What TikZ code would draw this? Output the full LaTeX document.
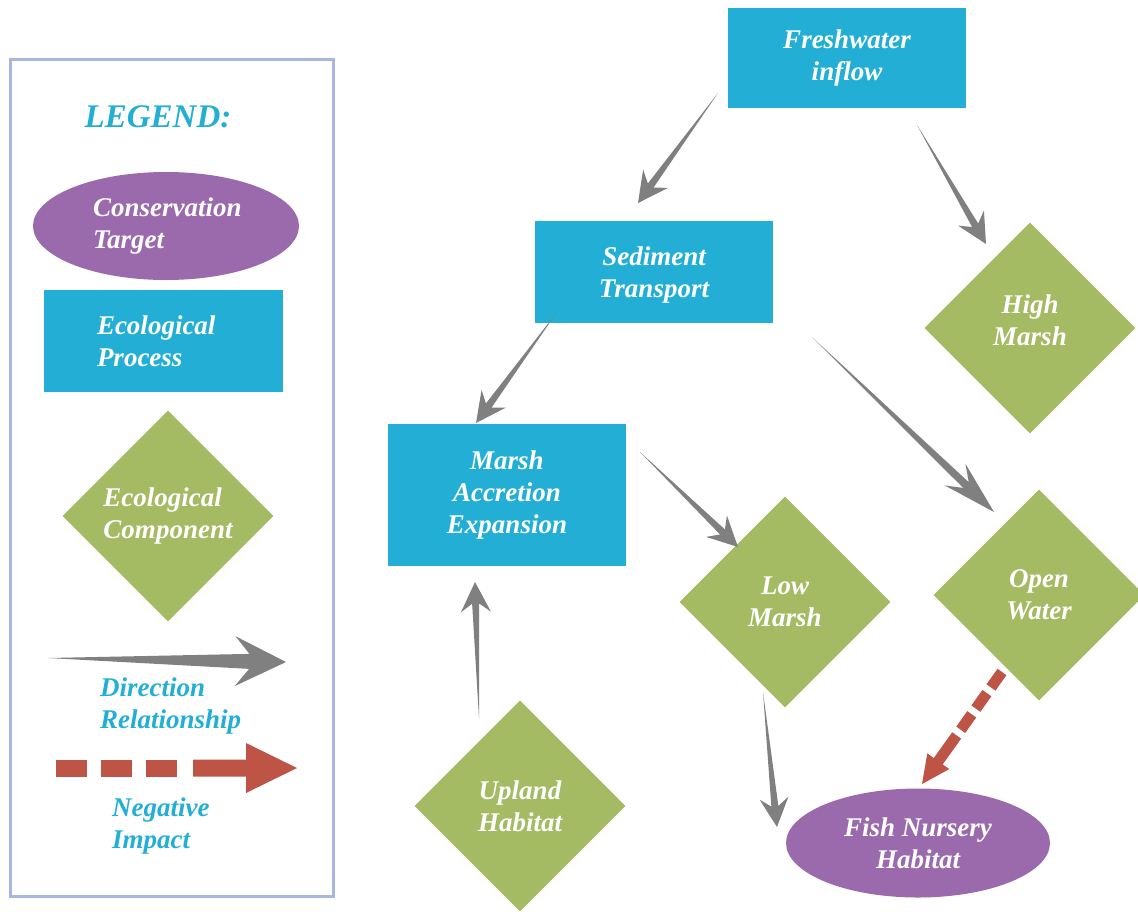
\documentclass[tikz,border=0pt]{standalone}
\usepackage{fontspec}
\setmainfont{Liberation Serif}
\usetikzlibrary{shapes.geometric,calc}
\definecolor{procblue}{HTML}{23AFD5}
\definecolor{targpurple}{HTML}{9A6AAD}
\definecolor{compgreen}{HTML}{A4BA63}
\definecolor{arrgray}{HTML}{808080}
\definecolor{negred}{HTML}{BE5445}
\definecolor{legframe}{HTML}{A9B6E0}
% tapered gray arrow: start, tip, head length, head half width, shaft half width
\newcommand\grayarrow[5]{%
  \coordinate (ga-n) at ($(#2)!0.72*#3!(#1)$);
  \coordinate (ga-c) at ($(#2)!#3!(#1)$);
  \fill[arrgray] (#1) -- ($(ga-n)!#5!90:(#2)$) -- ($(ga-c)!#4!90:(#2)$) -- (#2)
    -- ($(ga-c)!#4!-90:(#2)$) -- ($(ga-n)!#5!-90:(#2)$) -- cycle;
}
% solid red arrow with triangular head
\newcommand\redarrow[5]{%
  \coordinate (ra-c) at ($(#2)!#3!(#1)$);
  \fill[negred] ($(#1)!#5!90:(#2)$) -- ($(ra-c)!#5!90:(#2)$) -- ($(ra-c)!#4!90:(#2)$) -- (#2)
    -- ($(ra-c)!#4!-90:(#2)$) -- ($(ra-c)!#5!-90:(#2)$) -- ($(#1)!#5!-90:(#2)$) -- cycle;
}
\tikzset{
  proc/.style={rectangle, fill=procblue, text=white, inner sep=0pt, minimum width=238pt, align=center},
  target/.style={ellipse, fill=targpurple, text=white, inner sep=0pt, minimum width=264pt, minimum height=109pt, align=center},
  comp/.style={diamond, fill=compgreen, text=white, inner sep=0pt, minimum width=211pt, minimum height=211pt, align=center},
  legtext/.style={text=procblue, align=left, anchor=west, inner sep=0pt},
}
\begin{document}
\begin{tikzpicture}[x=1pt, y=-1pt, font=\bfseries\itshape\fontsize{27}{32}\selectfont]
\useasboundingbox (0,0) rectangle (1138,911);
\clip (0,0) rectangle (1138,911);

% ---------- legend ----------
\node[draw=legframe, line width=2.5pt, minimum width=323pt, minimum height=837pt, anchor=north west, inner sep=0pt] (legbox) at (9,58) {};
\node[text=procblue, font=\bfseries\itshape\fontsize{33}{36}\selectfont] (legtitle) at (158,117) {LEGEND:};
\node[target, minimum width=266pt, minimum height=108pt, align=left, text width=146pt] (legtarget) at (166,226) {Conservation\\Target};
\node[proc, minimum width=239pt, minimum height=102pt, align=left, text width=132pt] (legproc) at (163,341) {Ecological\\Process};
\node[comp, align=left] (legcomp) at (168,516) {Ecological\\Component};

\coordinate (lga-s) at (48,658);
\coordinate (lga-t) at (286,662);
\grayarrow{lga-s}{lga-t}{51pt}{25pt}{7.5pt}
\node[legtext] (legdir) at (100,706) {Direction\\Relationship};

\coordinate (lra-a) at (56,768);
\coordinate (lra-b) at (178,768);
\coordinate (lra-c) at (193,768);
\coordinate (lra-t) at (297,768);
\draw[negred, line width=17pt, dash pattern=on 31pt off 14pt] (lra-a) -- (lra-b);
\redarrow{lra-c}{lra-t}{51pt}{25pt}{8.5pt}
\node[legtext] (legneg) at (112,826) {Negative\\Impact};

% ---------- main diagram ----------
\node[proc, minimum height=100pt] (fresh) at (847,58) {Freshwater\\inflow};
\node[proc, minimum height=102pt, text depth=-6pt] (sed) at (654,272) {Sediment\\Transport};
\node[proc, minimum height=142pt] (marsh) at (507,495) {Marsh\\Accretion\\Expansion};
\node[comp, text depth=16pt] (high) at (1030,328) {High\\Marsh};
\node[comp] (low) at (785,602) {Low\\Marsh};
\node[comp] (open) at (1039,595) {Open\\Water};
\node[comp] (upland) at (520,806) {Upland\\Habitat};
\node[target] (fish) at (918,843) {Fish Nursery\\Habitat};

% connectors (free ends as named coordinates)
\coordinate (fresh-s1) at (718,93);   \coordinate (sed-t) at (638,203);
\coordinate (fresh-s2) at (917,125);  \coordinate (high-t) at (986,244);
\coordinate (sed-s1) at (557,312);    \coordinate (marsh-t) at (476,423);
\coordinate (sed-s2) at (812,337);    \coordinate (open-t) at (994,512);
\coordinate (marsh-s) at (640,452);   \coordinate (low-t) at (738,547);
\coordinate (upland-s) at (479,718);  \coordinate (marsh-tb) at (475,582);
\coordinate (low-s) at (763,692);     \coordinate (fish-t1) at (777,827);

\grayarrow{fresh-s1}{sed-t}{30pt}{15.5pt}{3.5pt}
\grayarrow{fresh-s2}{high-t}{30pt}{15pt}{3.5pt}
\grayarrow{sed-s1}{marsh-t}{30pt}{15pt}{3.5pt}
\grayarrow{sed-s2}{open-t}{54pt}{15pt}{4pt}
\grayarrow{marsh-s}{low-t}{30pt}{15pt}{3.5pt}
\grayarrow{upland-s}{marsh-tb}{30pt}{15pt}{3.5pt}
\grayarrow{low-s}{fish-t1}{29pt}{14.5pt}{3.5pt}

\coordinate (open-s) at (1002,672);
\coordinate (fish-t2) at (922,784);
\coordinate (open-d) at ($(open-s)!71pt!(fish-t2)$);
\coordinate (open-m) at ($(open-s)!78pt!(fish-t2)$);
\draw[negred, line width=11pt, dash pattern=on 19pt off 7pt] (open-s) -- (open-d);
\redarrow{open-m}{fish-t2}{28pt}{13.5pt}{5.5pt}
\end{tikzpicture}
\end{document}
